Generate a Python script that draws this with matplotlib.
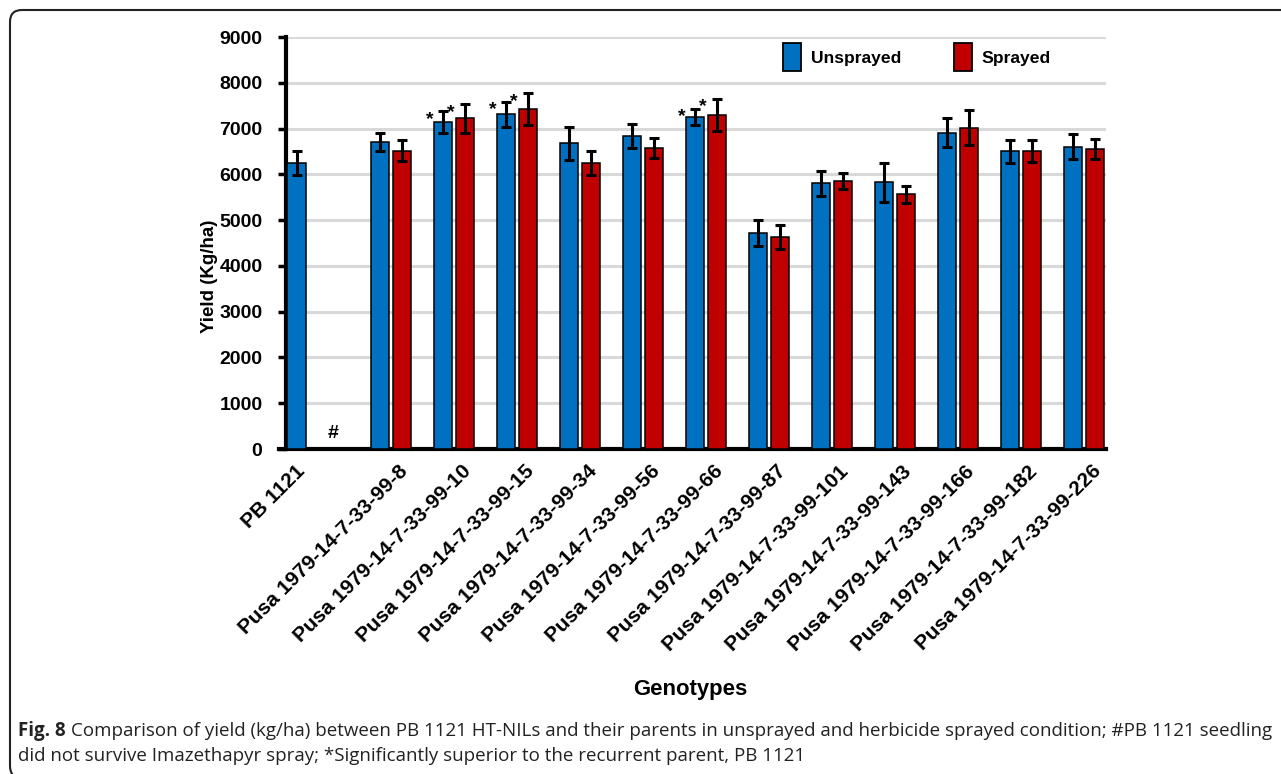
import numpy as np
import matplotlib
matplotlib.use("Agg")
import matplotlib.pyplot as plt
from matplotlib import font_manager
from matplotlib.patches import FancyBboxPatch
from matplotlib.transforms import IdentityTransform, ScaledTranslation

# data
genotypes = ["PB 1121", "Pusa 1979-14-7-33-99-8", "Pusa 1979-14-7-33-99-10",
             "Pusa 1979-14-7-33-99-15", "Pusa 1979-14-7-33-99-34",
             "Pusa 1979-14-7-33-99-56", "Pusa 1979-14-7-33-99-66",
             "Pusa 1979-14-7-33-99-87", "Pusa 1979-14-7-33-99-101",
             "Pusa 1979-14-7-33-99-143", "Pusa 1979-14-7-33-99-166",
             "Pusa 1979-14-7-33-99-182", "Pusa 1979-14-7-33-99-226"]
unsprayed = [6250, 6700, 7140, 7310, 6680, 6840, 7250, 4710, 5800, 5830, 6910, 6500, 6600]
unsprayed_err = [270, 200, 240, 280, 360, 265, 180, 285, 270, 425, 310, 260, 275]
sprayed = [np.nan, 6520, 7220, 7420, 6250, 6580, 7300, 4630, 5860, 5560, 7020, 6500, 6550]
sprayed_err = [np.nan, 235, 310, 350, 255, 220, 350, 270, 175, 195, 380, 240, 215]
signif = [2, 3, 6]   # significantly superior to PB 1121 (both conditions)
yticks = [0, 1000, 2000, 3000, 4000, 5000, 6000, 7000, 8000, 9000]

blue = "#0070C0"
red = "#C00000"

avail = {f.name for f in font_manager.fontManager.ttflist}
if "Liberation Sans Narrow" in avail:
    narrow, nscale = "Liberation Sans Narrow", 1.0
else:
    narrow, nscale = "Liberation Sans", 0.84
arial = "Liberation Sans"

W, H = 1281, 774
fig = plt.figure(figsize=(W / 100, H / 100), dpi=100)
ax = fig.add_axes([286 / W, 1 - 449 / H, (1106 - 286) / W, (449 - 37) / H])

n = len(genotypes)
xpos = np.arange(n, dtype=float)
bw = 0.29
blue_x = xpos - 0.17
blue_x[0] = -0.5
red_x = xpos + 0.17
tick_x = xpos.copy()
tick_x[0] = -0.63

sp = np.array(sprayed, dtype=float)
spe = np.array(sprayed_err, dtype=float)
ok = ~np.isnan(sp)

ekw = dict(ecolor="black", elinewidth=2.2, capsize=3.8, capthick=2.2)
ax.bar(blue_x, unsprayed, width=bw, color=blue, edgecolor="black", linewidth=1.1,
       yerr=unsprayed_err, error_kw=ekw, label="Unsprayed", zorder=3)
ax.bar(red_x[ok], sp[ok], width=bw, color=red, edgecolor="black", linewidth=1.1,
       yerr=spe[ok], error_kw=ekw, label="Sprayed", zorder=3)

# significance stars
for i in signif:
    for bx, v, e in [(blue_x[i], unsprayed[i], unsprayed_err[i]),
                     (red_x[i], sprayed[i], sprayed_err[i])]:
        ax.annotate("*", (bx - 0.215, v + e), xytext=(0, -9),
                    textcoords="offset points", ha="center", va="baseline",
                    fontsize=14, fontweight="bold", family=arial, zorder=5)

# PB 1121 did not survive spraying
ax.text(xpos[0] + 0.08, 150, "#", ha="center", va="bottom", fontsize=14,
        fontweight="bold", family=arial)

ax.set_xlim(-0.667, 12.35)
ax.set_ylim(0, 9000)
ax.set_yticks(yticks)
ax.set_yticklabels([str(t) for t in yticks], fontsize=14, fontweight="bold", family=arial)
ax.yaxis.grid(True, color="#d9d9d9", linewidth=2.2)
ax.set_axisbelow(True)

ax.set_xticks(tick_x)
ax.set_xticklabels(genotypes, rotation=45, ha="right", va="center",
                   rotation_mode="anchor", fontsize=15, fontweight="bold", family=arial)
ax.tick_params(axis="x", length=0, pad=14)
ax.tick_params(axis="y", length=6, width=2.5, pad=11, direction="out")
off = ScaledTranslation(10 / 72, 0, fig.dpi_scale_trans)
for lab in ax.get_xticklabels():
    lab.set_transform(lab.get_transform() + off)

for s in ["top", "right"]:
    ax.spines[s].set_visible(False)
ax.spines["left"].set_linewidth(3)
ax.spines["bottom"].set_linewidth(3)
ax.spines["bottom"].set_bounds(-0.78, 12.35)

ax.set_ylabel("Yield (Kg/ha)", fontsize=13.5, fontweight="bold", family=arial)
ax.yaxis.set_label_coords(-0.083, 0.42)

leg = ax.legend(loc="upper left", bbox_to_anchor=(0.606, 0.985), ncol=2, frameon=False,
                prop=dict(family=narrow, weight="bold", size=15 * nscale),
                handlelength=0.87 / nscale, handleheight=1.75 / nscale,
                handletextpad=0.55, columnspacing=3.0, borderpad=0, borderaxespad=0)
for p in leg.get_patches():
    p.set_linewidth(1.3)

fig.text(690 / W, 1 - 690 / H, "Genotypes", ha="center", va="center",
         fontsize=19 * nscale, fontweight="bold", family=narrow)

# caption
cap_size = 12
fig.canvas.draw()
r = fig.canvas.get_renderer()
y1 = 1 - 736 / H
t1 = fig.text(18 / W, y1, "Fig. 8", fontsize=cap_size, fontweight="bold",
              family="Open Sans", color="#222222", va="baseline")
bb = t1.get_window_extent(r)
t2 = fig.text((bb.x1 + 5) / W, y1,
              "Comparison of yield (kg/ha) between PB 1121 HT-NILs and their parents in "
              "unsprayed and herbicide sprayed condition; #PB 1121 seedling",
              fontsize=cap_size, family="Open Sans", color="#222222", va="baseline")
bb2 = t2.get_window_extent(r)
scale = (1268 - 18) / (bb2.x1 - bb.x0)
t1.set_fontsize(cap_size * scale)
t2.set_fontsize(cap_size * scale)
bb = t1.get_window_extent(r)
t2.set_x((bb.x1 + 5 * scale) / W)
fig.text(18 / W, 1 - 761 / H,
         "did not survive Imazethapyr spray; *Significantly superior to the recurrent parent, PB 1121",
         fontsize=cap_size * scale, family="Open Sans", color="#222222", va="baseline")

# rounded frame around the figure
frame = FancyBboxPatch((10, -4), 1300, H - 10 + 4, boxstyle="round,pad=0,rounding_size=12",
                       transform=IdentityTransform(), fill=False, edgecolor="#222222",
                       linewidth=1.5)
fig.patches.append(frame)

fig.savefig("out.png", dpi=100)
